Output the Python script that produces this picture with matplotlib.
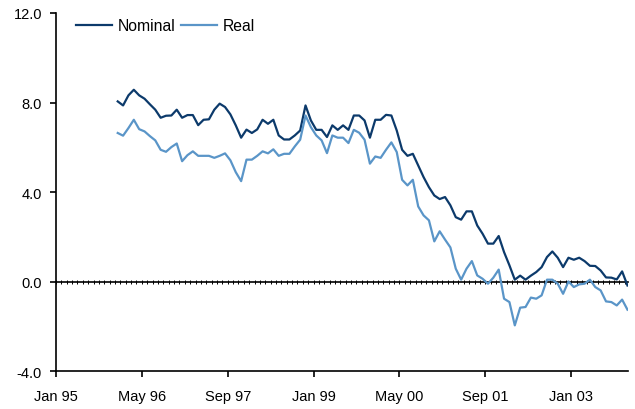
import numpy as np
import matplotlib
matplotlib.use('Agg')
import matplotlib.pyplot as plt
from matplotlib.ticker import MultipleLocator, FormatStrFormatter

plt.rcParams['font.family'] = ['Liberation Sans', 'DejaVu Sans']

# monthly data, Dec 95 .. Nov 03 (month 11 counted from Jan 95)
first_month = 11
nominal = [8.05, 7.87, 8.32, 8.57, 8.32, 8.17, 7.92, 7.68, 7.32, 7.41, 7.42, 7.68,
           7.32, 7.44, 7.44, 6.99, 7.23, 7.25, 7.68, 7.95, 7.80, 7.47, 6.98, 6.43,
           6.79, 6.64, 6.80, 7.23, 7.05, 7.23, 6.53, 6.35, 6.35, 6.53, 6.75, 7.87,
           7.20, 6.78, 6.78, 6.46, 6.98, 6.78, 6.98, 6.78, 7.42, 7.42, 7.20, 6.43,
           7.23, 7.23, 7.45, 7.42, 6.75, 5.89, 5.62, 5.71, 5.19, 4.67, 4.22, 3.85,
           3.69, 3.78, 3.41, 2.88, 2.77, 3.14, 3.14, 2.51, 2.14, 1.70, 1.70, 2.04,
           1.32, 0.73, 0.09, 0.27, 0.09, 0.27, 0.43, 0.65, 1.10, 1.35, 1.07, 0.65,
           1.07, 0.98, 1.07, 0.92, 0.71, 0.70, 0.50, 0.19, 0.18, 0.10, 0.46, -0.17]
real = [6.64, 6.52, 6.86, 7.23, 6.81, 6.71, 6.50, 6.31, 5.89, 5.80, 6.01, 6.17,
        5.38, 5.65, 5.82, 5.62, 5.62, 5.62, 5.53, 5.62, 5.73, 5.42, 4.89, 4.49,
        5.45, 5.45, 5.62, 5.82, 5.73, 5.91, 5.62, 5.71, 5.71, 6.04, 6.34, 7.42,
        6.90, 6.53, 6.31, 5.74, 6.53, 6.43, 6.43, 6.19, 6.78, 6.65, 6.34, 5.27,
        5.59, 5.53, 5.89, 6.22, 5.79, 4.55, 4.30, 4.55, 3.36, 2.96, 2.74, 1.80,
        2.25, 1.88, 1.53, 0.58, 0.09, 0.58, 0.92, 0.28, 0.13, -0.09, 0.18, 0.54,
        -0.76, -0.91, -1.95, -1.16, -1.13, -0.71, -0.76, -0.61, 0.09, 0.09, -0.09, -0.54,
        0.01, -0.24, -0.12, -0.09, 0.09, -0.24, -0.39, -0.88, -0.91, -1.06, -0.80, -1.25]

tick_labels = ['Jan 95', 'May 96', 'Sep 97', 'Jan 99', 'May 00', 'Sep 01', 'Jan 03']

x = np.arange(len(nominal)) + first_month + 0.5

fig = plt.figure(figsize=(6.35, 4.10), dpi=100)
ax = fig.add_axes([0.0882, 0.092, 0.9008, 0.874])

ax.plot(x, nominal, color='#0c3a6b', lw=1.6, label='Nominal')
ax.plot(x, real, color='#5a95c8', lw=1.6, label='Real')

ax.set_xlim(0, 106.6)
ax.set_ylim(-4, 12)
ax.set_xticks(np.arange(len(tick_labels)) * 16)
ax.set_xticklabels(tick_labels)
ax.yaxis.set_major_locator(MultipleLocator(4))
ax.yaxis.set_major_formatter(FormatStrFormatter('%.1f'))

for s in ['top', 'right']:
    ax.spines[s].set_visible(False)
for s in ['left', 'bottom']:
    ax.spines[s].set_linewidth(1.2)
ax.tick_params(axis='both', length=4, width=1.2, labelsize=10.5, color='black')
ax.tick_params(axis='x', pad=9)
ax.tick_params(axis='y', pad=6)

# zero line with monthly tick marks
zero = ax.secondary_xaxis(0.25)
zero.spines['bottom'].set_linewidth(1.2)
zero.set_xticks(np.arange(0, 107))
zero.set_xticklabels([])
zero.tick_params(axis='x', direction='inout', length=2.5, width=0.7)

ax.legend(loc='upper left', bbox_to_anchor=(0.01, 1.025), ncol=2, frameon=False,
          fontsize=11.3, handlelength=2.3, handletextpad=0.4, columnspacing=0.3)

fig.savefig('out.png', dpi=100)
